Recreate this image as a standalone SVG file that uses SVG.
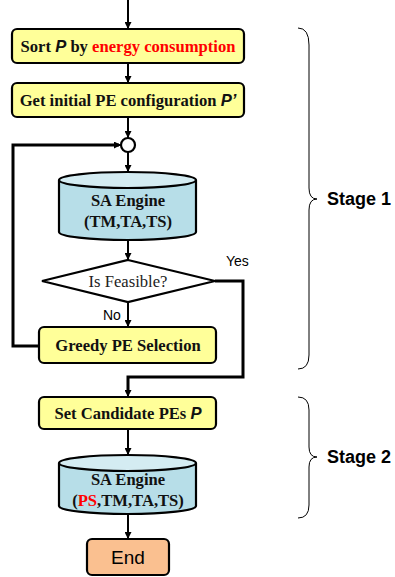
<svg xmlns="http://www.w3.org/2000/svg" width="395" height="577" viewBox="0 0 395 577">
<style>
.box{fill:#FFFF99;stroke:#000;stroke-width:2.2}
.cyl{fill:#B7DEE8;stroke:#000;stroke-width:2.2}
.cyltop{fill:#D4ECF2;stroke:#000;stroke-width:2.2}
.end{fill:#FAC090;stroke:#000;stroke-width:2.2}
.t{font-family:"Liberation Serif",serif;font-weight:bold;font-size:16.6px;fill:#111;text-anchor:middle}
.r{fill:#FF0000}
.it{font-family:"Liberation Sans",sans-serif;font-style:italic}
.s{font-family:"Liberation Sans",sans-serif;font-size:14px;fill:#000}
.endt{font-family:"Liberation Sans",sans-serif;font-size:19px;fill:#000;text-anchor:middle}
.stage{font-family:"Liberation Sans",sans-serif;font-weight:bold;font-size:18px;fill:#000}
.c{fill:none;stroke:#000;stroke-width:2}
.ct{fill:none;stroke:#000;stroke-width:3}
.br{fill:none;stroke:#000;stroke-width:1}
</style>
<defs>
<marker id="ah" viewBox="0 0 10 10" refX="10" refY="5" markerWidth="3.5" markerHeight="3.5" orient="auto" markerUnits="strokeWidth">
<path d="M0,0 L10,5 L0,10 z" fill="#000"/>
</marker>
</defs>
<g id="connectors">
<line class="c" x1="128" y1="0" x2="128" y2="29" marker-end="url(#ah)"/>
<line class="c" x1="128" y1="63" x2="128" y2="83" marker-end="url(#ah)"/>
<line class="c" x1="128" y1="117" x2="128" y2="138" marker-end="url(#ah)"/>
<line class="c" x1="128" y1="152" x2="128" y2="172" marker-end="url(#ah)"/>
<line class="c" x1="128" y1="240" x2="128" y2="260" marker-end="url(#ah)"/>
<line class="c" x1="128" y1="302" x2="128" y2="327" marker-end="url(#ah)"/>
<polyline class="ct" points="39,346 13,346 13,145 119,145"/>
<line class="c" x1="115" y1="145" x2="121" y2="145" marker-end="url(#ah)"/>
<polyline class="ct" points="215,281 243,281 243,377 128,377 128,390"/>
<line class="c" x1="128" y1="388" x2="128" y2="397" marker-end="url(#ah)"/>
<line class="c" x1="128" y1="429" x2="128" y2="455" marker-end="url(#ah)"/>
<line class="c" x1="128" y1="514" x2="128" y2="539" marker-end="url(#ah)"/>
</g>
<g id="start-sort">
<rect class="box" x="12" y="29" width="232" height="34" rx="5"/>
<text class="t" x="128" y="52">Sort <tspan class="it">P</tspan> by <tspan class="r">energy consumption</tspan></text>
</g>
<g id="initial-config">
<rect class="box" x="12" y="83" width="232" height="34" rx="5"/>
<text class="t" x="128" y="106">Get initial PE configuration <tspan class="it">P’</tspan></text>
</g>
<g id="merge">
<circle cx="128" cy="145" r="7" fill="#fff" stroke="#000" stroke-width="2.2"/>
</g>
<g id="sa-engine-1">
<path class="cyl" d="M59,180 L59,232 A68.5,8 0 0 0 196,232 L196,180"/>
<ellipse class="cyltop" cx="127.5" cy="180" rx="68.5" ry="8"/>
<text class="t" x="128" y="206">SA Engine</text>
<text class="t" x="128" y="227">(TM,TA,TS)</text>
</g>
<g id="feasible">
<polygon points="128,260 215,281 128,302 42,281" fill="#fff" stroke="#000" stroke-width="2.2"/>
<text x="128" y="287" font-family="Liberation Serif,serif" font-size="16.6" text-anchor="middle" fill="#222">Is Feasible?</text>
<text class="s" x="103" y="320">No</text>
<text class="s" x="226" y="266">Yes</text>
</g>
<g id="greedy">
<rect class="box" x="39" y="327" width="177" height="36" rx="5"/>
<text class="t" x="128" y="351">Greedy PE Selection</text>
</g>
<g id="candidates">
<rect class="box" x="39" y="397" width="177" height="32" rx="5"/>
<text class="t" x="128" y="419">Set Candidate PEs <tspan class="it">P</tspan></text>
</g>
<g id="sa-engine-2">
<path class="cyl" d="M59,463 L59,506 A68.5,8 0 0 0 196,506 L196,463"/>
<ellipse class="cyltop" cx="127.5" cy="463" rx="68.5" ry="8"/>
<text class="t" x="128" y="485">SA Engine</text>
<text class="t" x="128" y="506">(<tspan class="r">PS</tspan>,TM,TA,TS)</text>
</g>
<g id="end">
<rect class="end" x="87" y="539" width="82" height="36" rx="5"/>
<text class="endt" x="128" y="564">End</text>
</g>
<g id="stage1">
<path class="br" d="M298,28 Q309,28 309,45 L309,188 Q309,199 317,199 Q309,199 309,210 L309,355 Q309,369 298,369"/>
<text class="stage" x="327" y="205">Stage 1</text>
</g>
<g id="stage2">
<path class="br" d="M298,397 Q309,397 309,410 L309,447 Q309,457 317,457 Q309,457 309,467 L309,505 Q309,518 298,518"/>
<text class="stage" x="327" y="463">Stage 2</text>
</g>
</svg>
